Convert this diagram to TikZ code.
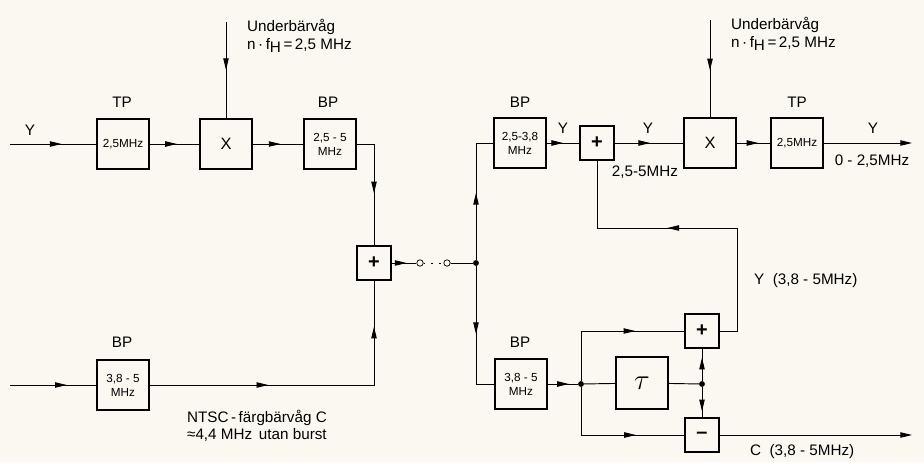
\documentclass[tikz,border=0pt]{standalone}
\usepackage{fontspec}
\setmainfont{Liberation Sans}
\usetikzlibrary{arrows.meta, decorations.markings}
\definecolor{paper}{RGB}{250,248,241}

\begin{document}
\begin{tikzpicture}[x=0.03cm, y=-0.03cm,
  blk/.style={draw, line width=1.8pt, inner sep=0pt, minimum width=1.56cm, minimum height=1.5cm,
    align=center, font=\fontsize{10}{12}\selectfont},
  sumblk/.style={draw, line width=1.8pt, inner sep=0pt, minimum size=1cm, font=\fontsize{17}{17}\selectfont\bfseries},
  lbl/.style={font=\fontsize{13}{15}\selectfont},
  wire/.style={line width=0.8pt},
  midarr/.style={wire, postaction={decorate},
    decoration={markings, mark=at position #1 with {\arrow{Triangle[length=10pt,width=4.6pt]}}}},
  twoarr/.style 2 args={wire, postaction={decorate},
    decoration={markings, mark=at position #1 with {\arrow{Triangle[length=10pt,width=4.6pt]}},
      mark=at position #2 with {\arrow{Triangle[length=10pt,width=4.6pt]}}}},
  junct/.style={circle, fill, inner sep=0pt, minimum size=5pt},
  swpt/.style={circle, draw, line width=0.6pt, fill=paper, inner sep=0pt, minimum size=5.5pt},
  >={Triangle[length=10pt,width=4.6pt]}
]
  \fill[paper] (0,0) rectangle (924,462);

  %% Sender: Y branch
  \node[blk] (tp1) at (123,144) {2,5MHz};
  \node[blk, font=\fontsize{14}{14}\selectfont] (mix1) at (226,144) {X};
  \node[blk] (bp1) at (330,144) {2,5 - 5\\MHz};
  \node[lbl] (tp1lbl) at (122,102) {TP};
  \node[lbl] (bp1lbl) at (328,102) {BP};
  \node[lbl] (yin) at (30,130) {Y};
  \node[lbl, anchor=west, align=left] (car1lbl) at (243,36) {Underbärvåg\\n\,·\,f\raisebox{-0.4ex}{H}\,=\,2,5 MHz};
  \coordinate (inY) at (10,144);
  \coordinate (car1) at (226,22);

  %% Sender: C branch
  \node[blk] (bp2) at (123,385) {3,8 - 5\\MHz};
  \node[lbl] (bp2lbl) at (122,342) {BP};
  \node[lbl, anchor=west, align=left] (ntsc) at (183,426) {NTSC\,-\,färgbärvåg C\\≈4,4 MHz\, utan burst};
  \coordinate (inC) at (10,385);

  %% Adder and switch
  \node[sumblk] (add1) at (374,263) {+};
  \node[swpt] (sw1) at (420,263) {};
  \node[swpt] (sw2) at (447,263) {};
  \node[junct] (j1) at (476,263) {};

  %% Receiver: Y path
  \node[blk] (bp3) at (520,143) {2,5-3,8\\MHz};
  \node[sumblk] (add2) at (597,143) {+};
  \node[blk, font=\fontsize{14}{14}\selectfont] (mix2) at (710,143) {X};
  \node[blk] (tp2) at (797,143) {2,5MHz};
  \node[lbl] (bp3lbl) at (520,102) {BP};
  \node[lbl] (tp2lbl) at (797,102) {TP};
  \node[lbl] (ybp) at (563,128) {Y};
  \node[lbl] (yadd) at (648,128) {Y};
  \node[lbl] (yband) at (645,172) {2,5-5MHz};
  \node[lbl] (yout) at (873,128) {Y};
  \node[lbl] (ylow) at (872,161) {0 - 2,5MHz};
  \node[lbl, anchor=west, align=left] (car2lbl) at (727,34) {Underbärvåg\\n\,·\,f\raisebox{-0.4ex}{H}\,=\,2,5 MHz};
  \coordinate (car2) at (710,20);
  \coordinate (outY) at (912,143);

  %% Receiver: comb filter
  \node[blk] (bp4) at (521,384) {3,8 - 5\\MHz};
  \node[lbl] (bp4lbl) at (520,342) {BP};
  \node[junct] (j2) at (581,384) {};
  \node[blk, minimum height=1.56cm, font=\fontsize{28}{28}\selectfont] (delay) at (642,383) {$\tau$};
  \node[junct] (j3) at (702,384) {};
  \node[sumblk] (add3) at (702,331) {+};
  \node[sumblk] (sub) at (702,435) {–};
  \node[lbl, anchor=west] (ycomb) at (750,281) {Y\; (3,8 - 5MHz)};
  \node[lbl, anchor=west] (ccomb) at (746,452) {C\; (3,8 - 5MHz)};
  \coordinate (fbR) at (737,228);
  \coordinate (outC) at (912,435);

  %% connectors
  \draw[midarr=0.6] (inY) -- (tp1);
  \draw[midarr=0.55] (tp1) -- (mix1);
  \draw[midarr=0.5] (car1) -- (mix1);
  \draw[midarr=0.55] (mix1) -- (bp1);
  \draw[midarr=0.56] (bp1) -| (add1);
  \draw[midarr=0.66] (inC) -- (bp2);
  \draw[twoarr={0.36}{0.86}] (bp2) -| (add1);
  \draw[midarr=0.6] (add1) -- (sw1);
  \draw[wire, dash pattern=on 1.5pt off 5pt] (sw1) -- (sw2);
  \draw[wire] (sw2) -- (j1);
  \draw[midarr=0.5] (j1) |- (bp3);
  \draw[midarr=0.5] (j1) |- (bp4);
  \draw[midarr=0.5] (bp3) -- (add2);
  \draw[midarr=0.52] (add2) -- (mix2);
  \draw[midarr=0.52] (car2) -- (mix2);
  \draw[midarr=0.65] (mix2) -- (tp2);
  \draw[wire, ->] (tp2) -- (outY);
  \draw[midarr=0.58] (add3) -| (fbR) -| (add2);
  \draw[midarr=0.7] (bp4) -- (j2);
  \draw[midarr=0.68] (j2) |- (add3);
  \draw[midarr=0.68] (j2) |- (sub);
  \draw[wire] (j2) -- (delay);
  \draw[wire] (delay) -- (j3);
  \draw[midarr=0.72] (j3) -- (add3);
  \draw[midarr=0.8] (j3) -- (sub);
  \draw[wire, ->] (sub) -- (outC);
\end{tikzpicture}
\end{document}
